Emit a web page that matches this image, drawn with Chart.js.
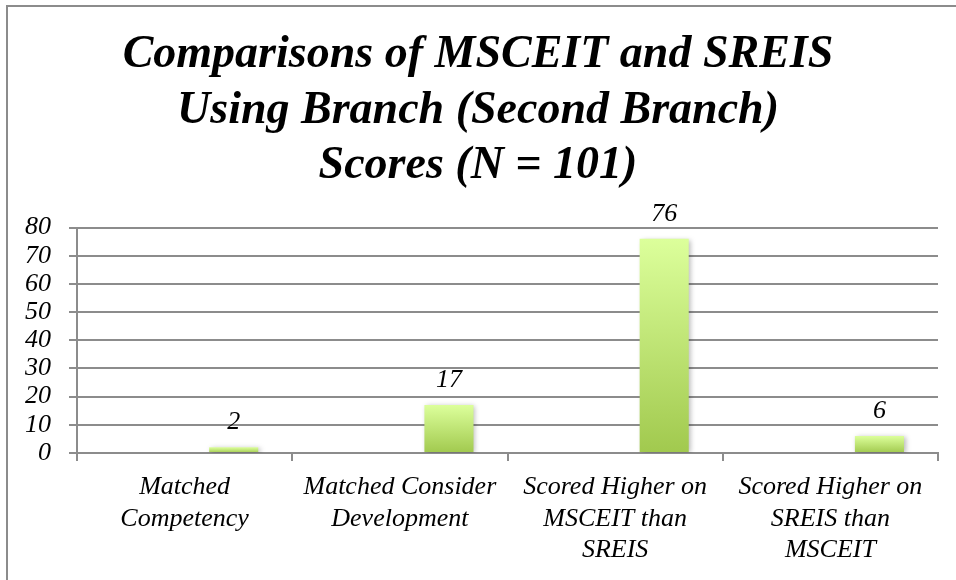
<!DOCTYPE html>
<html>
<head>
<meta charset="utf-8">
<script src="https://cdn.jsdelivr.net/npm/chart.js@4/dist/chart.umd.min.js"></script>
<style>
  html, body { margin: 0; padding: 0; background: #ffffff; }
  #wrap { width: 956px; height: 580px; }
</style>
</head>
<body>
<div id="wrap"><canvas id="c" width="956" height="580"></canvas></div>
<script>
// ---- data ----
const titleLines = ["Comparisons of MSCEIT and SREIS", "Using Branch (Second Branch)", "Scores (N = 101)"];
const categories = [
  ["Matched", "Competency"],
  ["Matched Consider", "Development"],
  ["Scored Higher on", "MSCEIT than", "SREIS"],
  ["Scored Higher on", "SREIS than", "MSCEIT"]
];
const emptySeries1 = [null, null, null, null];
const emptySeries2 = [null, null, null, null];
const counts = [2, 17, 76, 6];
const yMin = 0;
const yMax = 80;
const yStep = 10;

// ---- styles ----
const FONT = '"Liberation Serif", "Times New Roman", serif';
const GRID = '#8c8c8c';

function barGradient(context) {
  const chart = context.chart;
  if (!chart.chartArea || context.type !== 'data') return '#c4e47a';
  const v = context.raw;
  if (v === null || v === undefined) return 'rgba(0,0,0,0)';
  const y = chart.scales.y;
  const top = y.getPixelForValue(v);
  const bot = y.getPixelForValue(0);
  const g = chart.ctx.createLinearGradient(0, top, 0, bot);
  g.addColorStop(0, '#dcff9b');
  g.addColorStop(1, '#a1c94e');
  return g;
}

const framePlugin = {
  id: 'frame',
  beforeDraw(chart) {
    const ctx = chart.ctx;
    ctx.save();
    ctx.fillStyle = '#ffffff';
    ctx.fillRect(0, 0, chart.width, chart.height);
    ctx.strokeStyle = '#8c8c8c';
    ctx.lineWidth = 2;
    ctx.beginPath();
    ctx.moveTo(7, chart.height);
    ctx.lineTo(7, 6);
    ctx.lineTo(chart.width, 6);
    ctx.stroke();
    ctx.restore();
  }
};

const shadowPlugin = {
  id: 'barShadow',
  beforeDatasetDraw(chart, args) {
    const ctx = chart.ctx;
    ctx.save();
    ctx.shadowColor = 'rgba(0,0,0,0.28)';
    ctx.shadowBlur = 5;
    ctx.shadowOffsetX = 2;
    ctx.shadowOffsetY = 1;
  },
  afterDatasetDraw(chart) {
    chart.ctx.restore();
  }
};

const labelPlugin = {
  id: 'valueLabels',
  afterDatasetsDraw(chart) {
    const ctx = chart.ctx;
    const meta = chart.getDatasetMeta(2);
    ctx.save();
    ctx.font = 'italic 26px ' + FONT;
    ctx.fillStyle = '#000000';
    ctx.textAlign = 'center';
    ctx.textBaseline = 'alphabetic';
    meta.data.forEach((bar, i) => {
      const v = chart.data.datasets[2].data[i];
      if (v === null || v === undefined) return;
      ctx.fillText(String(v), bar.x, bar.y - 18);
    });
    ctx.restore();
  }
};

new Chart(document.getElementById('c'), {
  type: 'bar',
  data: {
    labels: categories,
    datasets: [
      { label: 'Series 1', data: emptySeries1, backgroundColor: 'rgba(0,0,0,0)' },
      { label: 'Series 2', data: emptySeries2, backgroundColor: 'rgba(0,0,0,0)' },
      { label: 'Series 3', data: counts, backgroundColor: barGradient, borderWidth: 0 }
    ]
  },
  options: {
    responsive: false,
    animation: false,
    devicePixelRatio: 1,
    layout: { padding: { left: 18, right: 18, top: 0, bottom: 0 } },
    datasets: {
      bar: { categoryPercentage: 0.684, barPercentage: 1.0 }
    },
    plugins: {
      legend: { display: false },
      tooltip: { enabled: false },
      title: {
        display: true,
        text: titleLines,
        color: '#000000',
        font: { family: FONT, size: 46, weight: 'bold', style: 'italic', lineHeight: 1.2 },
        padding: { top: 28, bottom: 34 }
      }
    },
    scales: {
      x: {
        offset: true,
        grid: { display: true, drawOnChartArea: false, drawTicks: true, tickLength: 8, color: GRID, lineWidth: 2, offset: true },
        border: { display: true, color: GRID, width: 2 },
        ticks: {
          color: '#000000',
          padding: 11,
          maxRotation: 0,
          autoSkip: false,
          font: { family: FONT, size: 26, style: 'italic', lineHeight: 1.2 }
        },
        afterFit(scale) { scale.height = 127; }
      },
      y: {
        min: yMin,
        max: yMax,
        grid: { color: GRID, lineWidth: 2, drawTicks: true, tickLength: 8 },
        border: { display: true, color: GRID, width: 2 },
        ticks: {
          stepSize: yStep,
          autoSkip: false,
          color: '#000000',
          padding: 18,
          font: { family: FONT, size: 26, style: 'italic', lineHeight: 1.0 }
        },
        afterFit(scale) { scale.width = 59; }
      }
    }
  },
  plugins: [framePlugin, shadowPlugin, labelPlugin]
});
</script>
</body>
</html>
